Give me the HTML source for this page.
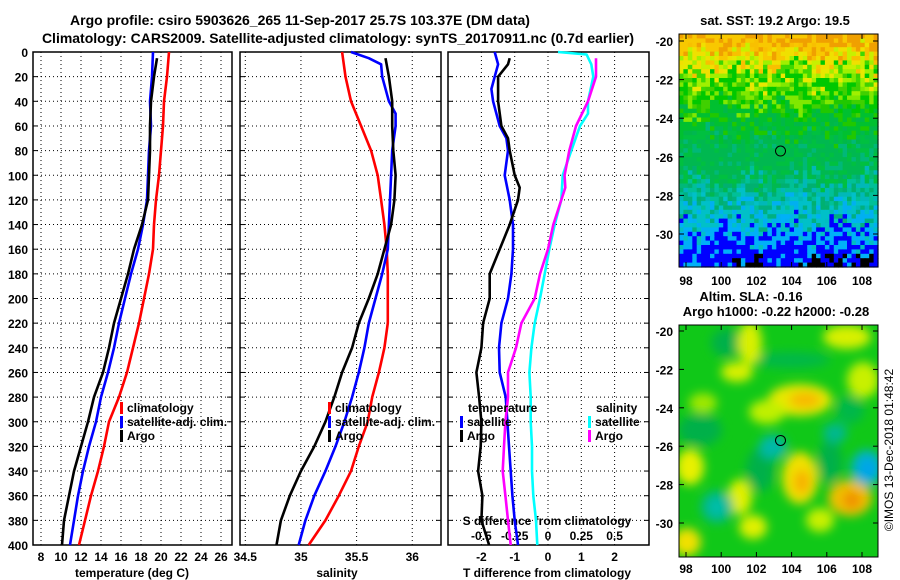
<!DOCTYPE html>
<html><head><meta charset="utf-8"><style>
body{margin:0;background:#fff}
svg{display:block}
text{font-family:"Liberation Sans",sans-serif;font-weight:bold;fill:#000}
</style></head><body>
<svg id="s" width="900" height="580" viewBox="0 0 900 580" xmlns="http://www.w3.org/2000/svg">
<defs>
<filter id="bl" x="-50%" y="-50%" width="200%" height="200%"><feGaussianBlur stdDeviation="5"/></filter>
<clipPath id="cb"><rect x="679" y="325" width="199" height="232"/></clipPath>
</defs>
<text x="300" y="25" font-size="14" text-anchor="middle">Argo profile: csiro 5903626_265 11-Sep-2017 25.7S 103.37E (DM data)</text>
<text x="338" y="43" font-size="14" text-anchor="middle">Climatology: CARS2009. Satellite-adjusted climatology: synTS_20170911.nc (0.7d earlier)</text>
<text x="775" y="25" font-size="13" text-anchor="middle">sat. SST: 19.2 Argo: 19.5</text>
<text x="751" y="301" font-size="13" text-anchor="middle">Altim. SLA: -0.16</text>
<text x="776" y="316" font-size="13" text-anchor="middle">Argo h1000: -0.22 h2000: -0.28</text>
<text transform="translate(893,450) rotate(-90)" font-size="12" text-anchor="middle" style="font-weight:normal">©IMOS 13-Dec-2018 01:48:42</text>
<g id="g"></g>
</svg>
<script>
// ---------- data ----------
const depths=[0,20,40,60,80,100,120,140,160,180,200,220,240,260,280,300,320,340,360,380,400];
const tempClim=[20.8,20.6,20.3,20.2,20.0,19.8,19.5,19.3,19.2,18.8,18.3,17.8,17.2,16.6,15.8,14.8,14.3,13.7,13.0,12.4,11.8];
const tempSat=[19.2,19.1,18.9,19.0,18.8,18.7,18.6,18.2,17.7,17.0,16.4,15.8,15.3,14.7,14.0,13.5,12.8,12.2,11.7,11.3,10.9];
const argoDepths=[5,20,40,60,80,100,120,140,160,180,200,220,240,260,280,300,320,340,360,380,400];
const tempArgo=[19.6,19.3,19.0,18.9,18.9,18.8,18.7,18.1,17.3,16.7,16.0,15.3,14.8,14.2,13.3,12.7,12.0,11.3,10.8,10.3,10.1];
const salClimDepths=[0,20,40,60,80,100,120,140,160,180,200,220,240,260,280,300,320,340,360,380,400];
const salClim=[35.37,35.40,35.45,35.54,35.63,35.69,35.72,35.75,35.77,35.78,35.78,35.78,35.75,35.70,35.64,35.60,35.52,35.45,35.34,35.22,35.07];
const salSatDepths=[0,5,10,20,40,50,60,80,100,120,140,160,180,200,220,240,260,280,300,320,340,360,380,400];
const salSat=[35.45,35.61,35.72,35.73,35.79,35.85,35.85,35.82,35.81,35.80,35.79,35.78,35.73,35.67,35.61,35.57,35.52,35.46,35.39,35.31,35.22,35.12,35.04,34.98];
const salArgo=[35.76,35.79,35.82,35.82,35.83,35.85,35.84,35.81,35.75,35.69,35.61,35.52,35.46,35.37,35.30,35.22,35.12,35.00,34.90,34.82,34.78];
const dSatDepths=[0,10,20,30,40,60,70,80,100,120,140,160,180,200,220,240,260,280,300,320,340,360,380,400];
const dTempSat=[-1.6,-1.5,-1.6,-1.7,-1.65,-1.45,-1.25,-1.2,-1.3,-1.15,-1.05,-1.05,-1.1,-1.2,-1.4,-1.47,-1.45,-1.27,-1.22,-1.17,-1.12,-1.07,-1.0,-0.9];
const dArgoDepths=[5,10,20,40,60,70,80,100,110,120,140,160,180,200,220,240,260,280,300,320,340,360,380,400];
const dTempArgo=[-1.15,-1.2,-1.5,-1.5,-1.4,-1.2,-1.15,-1.0,-0.85,-0.9,-1.15,-1.45,-1.75,-1.75,-1.95,-2.0,-2.15,-2.07,-2.0,-2.02,-2.1,-1.97,-2.0,-1.77];
const dSalSatDepths=[0,2,10,20,40,50,60,80,100,120,140,160,180,200,220,240,260,280,300,320,340,360,380,400];
const dSalSat=[0.075,0.29,0.325,0.34,0.3,0.3,0.24,0.175,0.11,0.1,0.05,0.01,-0.025,-0.06,-0.1,-0.125,-0.14,-0.13,-0.13,-0.12,-0.12,-0.11,-0.09,-0.08];
const dSalArgoDepths=[5,20,40,60,80,100,110,120,140,160,180,200,220,240,260,280,300,320,340,360,380,400];
const dSalArgo=[0.36,0.36,0.3,0.21,0.16,0.125,0.13,0.1,0.04,0.0,-0.06,-0.1,-0.2,-0.24,-0.3,-0.3,-0.32,-0.33,-0.34,-0.32,-0.3,-0.28];
const depthTicks=[0,20,40,60,80,100,120,140,160,180,200,220,240,260,280,300,320,340,360,380,400];
const tempTicks=[8,10,12,14,16,18,20,22,24,26];
const salTicks=[34.5,35,35.5,36];
const salTickLabels=["34.5","35","35.5","36"];
const dTTicks=[-2,-1,0,1,2];
const dSTicks=[-0.5,-0.25,0,0.25,0.5];
const dSTickLabels=["-0.5","-0.25","0","0.25","0.5"];
const latTicks=[-20,-22,-24,-26,-28,-30];
const lonTicks=[98,100,102,104,106,108];
const argoLon=103.37, argoLat=-25.7;
// ---------- scales ----------
const Y0=52,Y1=545;
const yD=d=>Y0+d*(Y1-Y0)/400;
const xT=t=>41+(t-8)*10;
const xS=s=>245.3+(s-34.5)*111.3;
const xdT=t=>548+t*33.3;
const xdS=s=>548+s*133.2;
const lonX=l=>686+(l-98)*17.6;
const latYTop=l=>41+(-20-l)*19.3;
const latYBot=l=>331+(-20-l)*19.2;
const NS='http://www.w3.org/2000/svg';
const G=document.getElementById('g');
function mk(tag,at,parent){const e=document.createElementNS(NS,tag);for(const k in at)e.setAttribute(k,at[k]);(parent||G).appendChild(e);return e;}
function txt(x,y,s,anchor,size){const e=mk('text',{x:x,y:y,'font-size':size||12,'text-anchor':anchor||'middle'});e.textContent=s;return e;}
function line(xs,ds,sx,color,name){let p='';for(let i=0;i<xs.length;i++){p+=(i?'L':'M')+sx(xs[i]).toFixed(1)+','+yD(ds[i]).toFixed(1);}
 const e=mk('path',{d:p,fill:'none',stroke:color,'stroke-width':2.6,'stroke-linejoin':'round'});
 
 }
function panel(x0,x1,name,vx){
 const grp=mk('g',{});
 
 
 vx.forEach(v=>mk('line',{x1:v,x2:v,y1:Y0,y2:Y1,stroke:'#000','stroke-width':1,'stroke-dasharray':'1,3'},grp));
 depthTicks.forEach(d=>{const y=yD(d);mk('line',{x1:x0,x2:x1,y1:y,y2:y,stroke:'#000','stroke-width':1,'stroke-dasharray':'1,3'},grp);
   mk('line',{x1:x0,x2:x0+5,y1:y,y2:y,stroke:'#000'},grp);mk('line',{x1:x1-5,x2:x1,y1:y,y2:y,stroke:'#000'},grp);});
 mk('rect',{x:x0,y:Y0,width:x1-x0,height:Y1-Y0,fill:'none',stroke:'#000','stroke-width':1.5},grp);
}
// panel 1
panel(33,232,'temperature-panel',tempTicks.map(xT));
tempTicks.forEach(t=>{const e=txt(xT(t),561,String(t));});
depthTicks.forEach(d=>{const e=txt(28,yD(d)+5,String(d),'end');});
{const e=txt(132,577,'temperature (deg C)');}
line(tempClim,depths,xT,'#ff0000','temp-climatology-line');
line(tempSat,depths,xT,'#0000ff','temp-satellite-line');
line(tempArgo,argoDepths,xT,'#000000','temp-argo-line');
// panel 2
panel(240,441,'salinity-panel',salTicks.map(xS));
salTicks.forEach((s,i)=>{const e=txt(xS(s),561,salTickLabels[i]);});
{const e=txt(337,577,'salinity');}
line(salClim,salClimDepths,xS,'#ff0000','sal-climatology-line');
line(salSat,salSatDepths,xS,'#0000ff','sal-satellite-line');
line(salArgo,argoDepths,xS,'#000000','sal-argo-line');
// panel 3
panel(448,649,'difference-panel',dTTicks.map(xdT));
dTTicks.forEach(t=>{const e=txt(xdT(t),561,String(t));});
dSTicks.forEach((s,i)=>{const e=txt(xdS(s),540,dSTickLabels[i]);});
{const e=txt(547,525,'S difference from climatology');}
{const e=txt(547,577,'T difference from climatology');}
line(dTempSat,dSatDepths,xdT,'#0000ff','dT-satellite-line');
line(dTempArgo,dArgoDepths,xdT,'#000000','dT-argo-line');
line(dSalSat,dSalSatDepths,xdS,'#00ffff','dS-satellite-line');
line(dSalArgo,dSalArgoDepths,xdS,'#ff00ff','dS-argo-line');
// legends
function leg(x,y,c,s,name){const g=mk('g',{});
 mk('rect',{x:x,y:y-10,width:3,height:12,fill:c},g);const t=mk('text',{x:x+7,y:y,'font-size':12},g);t.textContent=s;}
leg(120,412,'#ff0000','climatology','legend-temp-climatology');
leg(120,426,'#0000ff','satellite-adj. clim.','legend-temp-satellite');
leg(120,440,'#000000','Argo','legend-temp-argo');
leg(328,412,'#ff0000','climatology','legend-sal-climatology');
leg(328,426,'#0000ff','satellite-adj. clim.','legend-sal-satellite');
leg(328,440,'#000000','Argo','legend-sal-argo');
{const e=txt(468,412,'temperature','start');}
{const e=txt(596,412,'salinity','start');}
leg(460,426,'#0000ff','satellite','legend-dT-satellite');
leg(460,440,'#000000','Argo','legend-dT-argo');
leg(588,426,'#00ffff','satellite','legend-dS-satellite');
leg(588,440,'#ff00ff','Argo','legend-dS-argo');
// ---------- top SST map ----------
function hsh(i,j){let h=(i*374761393+j*668265263)|0;h=(h^(h>>>13))*1274126177|0;return ((h^(h>>>16))>>>0)/4294967296;}
const tm=mk('g',{});


const cw=199/45,ch=233/53;
for(let j=0;j<53;j++)for(let i=0;i<45;i++){
 const x=679+i*cw,y0=34+j*ch,h=hsh(i,j),h2=hsh(j+99,i+7),h3=hsh(i+31,j+57);
 const y=y0+(h3-0.5)*22+6*Math.sin(i*0.5+j*0.2);let c;
 if(y<50)c=(x>790&&h<0.6)||h<0.3?'#f0a000':'#f8c800';
 else if(y<64)c=h<0.4?'#f0e000':h<0.7?'#f8c000':'#c8f000';
 else if(y<84)c=h<0.35?'#a0f000':h<0.6?'#40d800':h<0.8?'#e8e800':'#00c800';
 else if(y<104)c=h<0.4?'#00c800':h<0.7?'#40d000':'#80e800';
 else if(y<132)c=h<0.5?'#00c030':h<0.8?'#20c800':'#00b848';
 else if(y<180)c=h<0.5?'#00b850':h<0.8?'#00c040':'#00b878';
 else if(y<200)c=h<0.4?'#00c098':h<0.7?'#00b8b8':'#00b070';
 else if(y<220)c=h<0.45?'#00c0c8':h<0.75?'#00b0f0':'#00b080';
 else if(y<238)c=h<0.55?'#00b0f8':h<0.75?'#00c0c0':'#0000ff';
 else if(y<252)c=h<0.65?'#0000ff':'#00b0f8';
 else c=((x>730&&x<762)||(x>790&&x<870))&&h2<0.55&&y0>252?'#000000':(h<0.85?'#0000ff':'#00b0f8');
 mk('rect',{x:x.toFixed(1),y:y0.toFixed(1),width:(cw+0.6).toFixed(1),height:(ch+0.6).toFixed(1),fill:c},tm);
}
mk('rect',{x:679,y:34,width:199,height:233,fill:'none',stroke:'#000','stroke-width':1},tm);
// ---------- bottom SLA map ----------
const bm=mk('g',{'clip-path':'url(#cb)'});


mk('rect',{x:679,y:325,width:199,height:232,fill:'#10c818'},bm);
const bg=mk('g',{filter:'url(#bl)'},bm);
[[727,343,16,14,'#00b048'],[700,430,22,16,'#00b048'],[760,470,14,22,'#00b048'],[830,462,12,22,'#00b048'],[790,360,40,8,'#00b848'],[850,410,14,14,'#00b848'],
 [750,343,12,22,'#d8f000'],[737,372,16,10,'#d8f000'],[847,337,24,12,'#d8f000'],[800,400,32,16,'#e8e800'],[805,400,16,8,'#f8b800'],
 [800,478,18,26,'#f0e000'],[802,482,8,12,'#f8b000'],[850,498,22,18,'#f0c000'],[852,500,9,9,'#f09000'],[690,467,14,18,'#e8f000'],
 [740,497,12,18,'#e0f000'],[687,542,14,14,'#f0e000'],[753,527,14,12,'#e0f000'],[820,520,14,12,'#c8f000'],[767,412,18,12,'#c0f000'],
 [863,380,16,18,'#c8f000'],[703,403,14,10,'#a0e800'],[717,507,16,16,'#00b890'],[717,507,7,7,'#00c0b0'],[773,447,14,12,'#00b8a8'],
 [835,433,12,10,'#00b890'],[867,468,16,18,'#00b0d0'],[868,469,7,8,'#00a0f0']]
.forEach(b=>mk('ellipse',{cx:b[0],cy:b[1],rx:b[2],ry:b[3],fill:b[4]},bg));
mk('rect',{x:679,y:325,width:199,height:232,fill:'none',stroke:'#000','stroke-width':1},G);
// map axes
function mapAxes(ly,yTop,yBot,labY,nm){
 latTicks.forEach(l=>{const y=ly(l);if(y<yTop||y>yBot)return;
  mk('line',{x1:679,x2:684,y1:y,y2:y,stroke:'#000'});mk('line',{x1:873,x2:878,y1:y,y2:y,stroke:'#000'});
  const e=txt(673,y+5,String(l),'end');});
 lonTicks.forEach(l=>{const x=lonX(l);mk('line',{x1:x,x2:x,y1:yBot-5,y2:yBot,stroke:'#000'});mk('line',{x1:x,x2:x,y1:yTop,y2:yTop+5,stroke:'#000'});
  const e=txt(x,labY,String(l));});
}
mapAxes(latYTop,34,267,285,'sst-map');
mapAxes(latYBot,325,557,573,'sla-map');
{const c=mk('circle',{cx:lonX(argoLon),cy:latYTop(argoLat),r:5,fill:'none',stroke:'#000','stroke-width':1});}
{const c=mk('circle',{cx:lonX(argoLon),cy:latYBot(argoLat),r:5,fill:'none',stroke:'#000','stroke-width':1});}
</script>
</body></html>
